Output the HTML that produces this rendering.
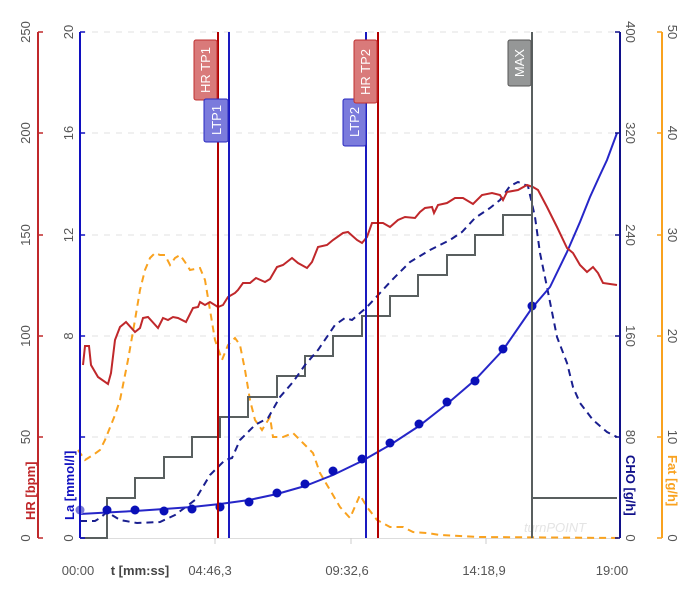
<!DOCTYPE html>
<html><head><meta charset="utf-8"><style>html,body{margin:0;padding:0;background:#fff}svg{display:block}text{font-family:"Liberation Sans",sans-serif}</style></head>
<body>
<svg width="700" height="600" viewBox="0 0 700 600" xmlns="http://www.w3.org/2000/svg">
<g stroke="#e0e0e0" stroke-width="1" stroke-dasharray="6,6">
<line x1="80" y1="32" x2="620" y2="32"/><line x1="80" y1="133" x2="620" y2="133"/><line x1="80" y1="235" x2="620" y2="235"/><line x1="80" y1="336" x2="620" y2="336"/><line x1="80" y1="437" x2="620" y2="437"/>
</g>
<line x1="80" y1="538.5" x2="620" y2="538.5" stroke="#ddd"/>
<g stroke="#ccc"><line x1="215" y1="538" x2="215" y2="544"/><line x1="351" y1="538" x2="351" y2="544"/><line x1="486" y1="538" x2="486" y2="544"/></g>
<text x="555" y="532" font-size="13" fill="#e4e4e4" font-style="italic" text-anchor="middle">turnPOINT</text>
<polyline fill="none" stroke="#f9a21f" stroke-width="2" stroke-dasharray="7,5" points="78,450 85,460 93,455 100,450 105,440 115,415 120,400 128,360 135,320 140,290 145,270 150,258 155,253 160,255 165,255 170,265 175,258 180,255 185,262 190,270 200,268 205,280 210,310 215,340 222,360 228,345 235,338 240,345 245,370 250,400 255,420 262,430 270,417 273,437 283,437 293,433 303,443 313,453 320,473 330,490 340,507 350,518 360,495 367,507 377,520 390,527 403,527 413,532 427,533 440,535 480,537 620,538"/>
<path fill="none" stroke="#595f5f" stroke-width="2" d="M80,538 H107 V498 H135 V478 H164 V457 H192 V437 H220 V417 H248 V397 H277 V376 H305 V356 H333 V336 H362 V316 H390 V296 H418 V275 H447 V255 H475 V235 H503 V215 H532 V498 H617"/>
<polyline fill="none" stroke="#1a1f8f" stroke-width="2" stroke-dasharray="7,5" points="80,521 95,521 100,518 107,512 120,520 137,523 160,522 175,515 195,500 210,475 225,460 232,458 240,440 255,425 268,418 280,397 293,382 305,365 318,350 335,325 345,318 352,320 367,307 380,293 392,280 410,262 430,250 450,240 462,232 475,218 490,208 500,200 510,186 518,182 528,186 535,217 540,253 547,287 557,337 567,363 573,387 580,403 593,420 607,432 617,437"/>
<polyline fill="none" stroke="#2626c8" stroke-width="2" points="80,514 107,512.5 135,511 164,509 192,507 220,504 249,500 277,494 305,486 333,475 362,461 390,445 419,426 447,404 475,380 503,350 532,308 550,287 567,252 580,222 590,197 600,175 607,160 617,133"/>
<g fill="#0a10b8">
<circle cx="80" cy="510" r="4.5" fill="#7a7ad8"/><circle cx="107" cy="510" r="4.5"/><circle cx="135" cy="510" r="4.5"/><circle cx="164" cy="511" r="4.5"/><circle cx="192" cy="509" r="4.5"/><circle cx="220" cy="507" r="4.5"/><circle cx="249" cy="502" r="4.5"/><circle cx="277" cy="493" r="4.5"/><circle cx="305" cy="484" r="4.5"/><circle cx="333" cy="471" r="4.5"/><circle cx="362" cy="459" r="4.5"/><circle cx="390" cy="443" r="4.5"/><circle cx="419" cy="424" r="4.5"/><circle cx="447" cy="402" r="4.5"/><circle cx="475" cy="381" r="4.5"/><circle cx="503" cy="349" r="4.5"/><circle cx="532" cy="306" r="4.5"/>
</g>
<polyline fill="none" stroke="#c0282b" stroke-width="2" points="83,365 85,346 89,346 91,365 98,377 108,384 111,373 115,340 120,327 126,322 135,332 140,328 143,318 148,317 158,328 163,318 168,320 173,317 178,318 186,322 193,308 198,307 200,302 205,305 210,302 218,307 223,305 228,297 235,293 238,290 243,283 250,283 256,278 265,282 270,279 277,267 283,265 292,258 298,263 307,268 312,262 318,247 327,245 333,240 343,233 348,232 357,240 362,243 367,237 372,223 377,223 383,223 390,227 398,220 405,217 415,218 420,212 425,208 432,207 434,213 438,205 447,203 455,198 463,198 473,204 482,195 492,193 500,195 503,200 507,192 518,190 527,185 533,187 538,190 547,207 557,227 567,248 573,253 580,265 587,272 593,267 598,273 603,283 617,285"/>
<line x1="218" y1="32" x2="218" y2="538" stroke="#b30000" stroke-width="2"/>
<line x1="229" y1="32" x2="229" y2="538" stroke="#1a1ac0" stroke-width="2"/>
<line x1="366" y1="32" x2="366" y2="538" stroke="#1a1ac0" stroke-width="2"/>
<line x1="378" y1="32" x2="378" y2="538" stroke="#b30000" stroke-width="2"/>
<line x1="532" y1="32" x2="532" y2="538" stroke="#595f5f" stroke-width="2"/>
<g font-size="13" fill="#fff">
<rect x="194" y="40" width="23" height="60" rx="2" fill="#d97a7a" stroke="#c03030"/>
<text transform="translate(210,70) rotate(-90)" text-anchor="middle">HR TP1</text>
<rect x="204" y="99" width="24" height="43" rx="2" fill="#7b7bdc" stroke="#2828c0"/>
<text transform="translate(221,120) rotate(-90)" text-anchor="middle">LTP1</text>
<rect x="343" y="99" width="23" height="47" rx="2" fill="#7b7bdc" stroke="#2828c0"/>
<text transform="translate(359,122) rotate(-90)" text-anchor="middle">LTP2</text>
<rect x="354" y="40" width="23" height="63" rx="2" fill="#d97a7a" stroke="#c03030"/>
<text transform="translate(370,72) rotate(-90)" text-anchor="middle">HR TP2</text>
<rect x="508" y="40" width="23" height="46" rx="2" fill="#959797" stroke="#555"/>
<text transform="translate(524,63) rotate(-90)" text-anchor="middle">MAX</text>
</g>
<g stroke-width="2">
<line x1="38" y1="32" x2="38" y2="538" stroke="#c0282b"/>
<line x1="80" y1="32" x2="80" y2="538" stroke="#1010c0"/>
<line x1="620" y1="32" x2="620" y2="538" stroke="#10108a"/>
<line x1="662" y1="32" x2="662" y2="538" stroke="#f9a21f"/>
</g>
<g stroke-width="1.5">
<path stroke="#c0282b" d="M38,32h5M38,133h5M38,235h5M38,336h5M38,437h5M38,538h5"/>
<path stroke="#1010c0" d="M80,32h5M80,133h5M80,235h5M80,336h5M80,437h5M80,538h5"/>
<path stroke="#10108a" d="M620,32h-5M620,133h-5M620,235h-5M620,336h-5M620,437h-5M620,538h-5"/>
<path stroke="#f9a21f" d="M662,32h-5M662,133h-5M662,235h-5M662,336h-5M662,437h-5M662,538h-5"/>
</g>
<g font-size="13" fill="#555" text-anchor="middle">
<text transform="translate(30,32) rotate(-90)">250</text>
<text transform="translate(30,133) rotate(-90)">200</text>
<text transform="translate(30,235) rotate(-90)">150</text>
<text transform="translate(30,336) rotate(-90)">100</text>
<text transform="translate(30,437) rotate(-90)">50</text>
<text transform="translate(30,538) rotate(-90)">0</text>
<text transform="translate(73,32) rotate(-90)">20</text>
<text transform="translate(73,133) rotate(-90)">16</text>
<text transform="translate(73,235) rotate(-90)">12</text>
<text transform="translate(73,336) rotate(-90)">8</text>
<text transform="translate(73,538) rotate(-90)">0</text>
<text transform="translate(626,32) rotate(90)">400</text>
<text transform="translate(626,133) rotate(90)">320</text>
<text transform="translate(626,235) rotate(90)">240</text>
<text transform="translate(626,336) rotate(90)">160</text>
<text transform="translate(626,437) rotate(90)">80</text>
<text transform="translate(626,538) rotate(90)">0</text>
<text transform="translate(668,32) rotate(90)">50</text>
<text transform="translate(668,133) rotate(90)">40</text>
<text transform="translate(668,235) rotate(90)">30</text>
<text transform="translate(668,336) rotate(90)">20</text>
<text transform="translate(668,437) rotate(90)">10</text>
<text transform="translate(668,538) rotate(90)">0</text>
</g>
<g font-size="13" font-weight="bold">
<text transform="translate(35,520) rotate(-90)" fill="#c0282b">HR [bpm]</text>
<text transform="translate(74,520) rotate(-90)" fill="#1010c0">La [mmol/l]</text>
<text transform="translate(626,455) rotate(90)" fill="#10108a">CHO [g/h]</text>
<text transform="translate(668,455) rotate(90)" fill="#f9a21f">Fat [g/h]</text>
</g>
<g font-size="13" fill="#555" text-anchor="middle">
<text x="78" y="575">00:00</text>
<text x="210" y="575">04:46,3</text>
<text x="347" y="575">09:32,6</text>
<text x="484" y="575">14:18,9</text>
<text x="612" y="575">19:00</text>
</g>
<text x="140" y="575" font-size="13" font-weight="bold" fill="#444" text-anchor="middle">t [mm:ss]</text>
</svg>
</body></html>
